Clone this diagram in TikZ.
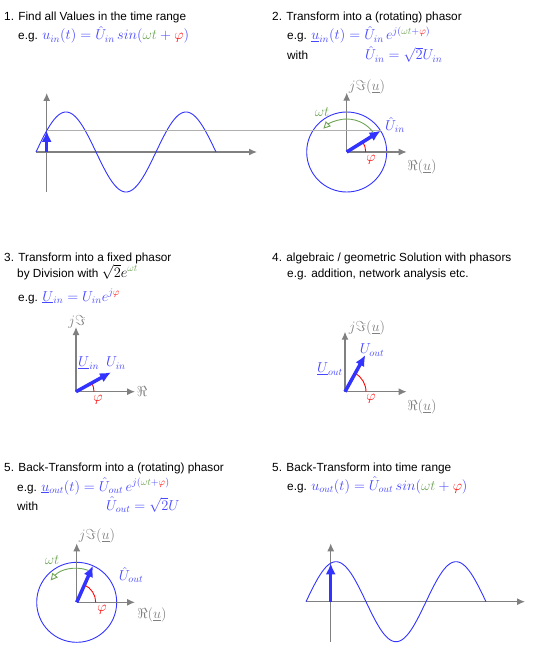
\documentclass[tikz,border=0pt]{standalone}
\usepackage{fontspec}
\setmainfont{Liberation Sans}
\usetikzlibrary{arrows.meta,calc,positioning}
\definecolor{phblue}{RGB}{51,51,255}
\definecolor{mathblue}{RGB}{70,70,255}
\definecolor{omgreen}{RGB}{110,165,85}
\definecolor{axgray}{RGB}{128,128,128}
\definecolor{guidegray}{RGB}{175,175,175}
\newcommand\mfs{\fontsize{14.5}{16}\selectfont}

\begin{document}
\begin{tikzpicture}[x=1pt, y=1pt, font=\fontsize{11.8}{14}\selectfont] % Styles
\tikzstyle{txt}=[anchor=base west, inner sep=0pt]
\tikzstyle{lbl}=[inner sep=0pt, font=\mfs]
\tikzstyle{axis}=[draw=axgray, line width=1.2pt, -{Latex[length=8pt,width=7pt]}]
\tikzstyle{wave}=[draw=phblue, line width=0.9pt]
\tikzstyle{circ}=[draw=phblue, line width=0.9pt]
\tikzstyle{guide}=[draw=guidegray, line width=0.9pt]
\tikzstyle{phasor}=[draw=phblue, line width=3.5pt, -{Latex[length=11pt,width=10pt]}]
\tikzstyle{phi}=[draw=red, line width=0.9pt]
\tikzstyle{rot}=[draw=omgreen, line width=0.9pt, -{Triangle[open,length=7pt,width=7pt]}]
\useasboundingbox (0,0) rectangle (551,-652);
% Texts
\node[txt] (h1) at (4,-21) {1. Find all Values in the time range};
\node[txt] (eg1) at (18,-40) {e.g. {\mfs\textcolor{mathblue}{$u_{in}(t)=\hat{U}_{in}\,sin(\textcolor{omgreen}{\omega t}+\textcolor{red}{\varphi})$}}};
\node[txt] (h2) at (272,-21) {2. Transform into a (rotating) phasor};
\node[txt] (eg2) at (287,-40) {e.g. {\mfs\textcolor{mathblue}{$\underline{u}_{in}(t)=\hat{U}_{in}\,e^{j(\textcolor{omgreen}{\omega t}+\textcolor{red}{\varphi})}$}}};
\node[txt] (w2) at (287,-60) {with};
\node[txt] (f2) at (365,-60) {\mfs\textcolor{mathblue}{$\hat{U}_{in}=\sqrt{2}U_{in}$}};
\node[txt] (h3) at (4,-261) {3. Transform into a fixed phasor};
\node[txt] (d3) at (17,-277) {by Division with {\mfs$\sqrt{2}e^{\textcolor{omgreen}{\omega t}}$}};
\node[txt] (eg3) at (18,-301) {e.g. {\mfs\textcolor{mathblue}{$\underline{U}_{in}=U_{in}e^{j\textcolor{red}{\varphi}}$}}};
\node[txt] (h4) at (272,-261) {4. algebraic / geometric Solution with phasors};
\node[txt] (eg4) at (287,-277) {e.g. addition, network analysis etc.};
\node[txt] (h5) at (4,-471) {5. Back-Transform into a (rotating) phasor};
\node[txt] (eg5) at (17,-491) {e.g. {\mfs\textcolor{mathblue}{$\underline{u}_{out}(t)=\hat{U}_{out}\,e^{j(\textcolor{omgreen}{\omega t}+\textcolor{red}{\varphi})}$}}};
\node[txt] (w5) at (17,-510) {with};
\node[txt] (f5) at (106,-510) {\mfs\textcolor{mathblue}{$\hat{U}_{out}=\sqrt{2}U$}};
\node[txt] (h6) at (272,-471) {5. Back-Transform into time range};
\node[txt] (eg6) at (287,-490) {e.g. {\mfs\textcolor{mathblue}{$u_{out}(t)=\hat{U}_{out}\,sin(\textcolor{omgreen}{\omega t}+\textcolor{red}{\varphi})$}}};
% Graph 1: time range
\coordinate (o1) at (46.7,-152);
\coordinate (x1a) at (36,-152);
\coordinate (x1b) at (257,-152);
\coordinate (y1a) at (46.7,-192);
\coordinate (y1b) at (46.7,-93);
\coordinate (t1) at ($(o1)+(0,{40*sin(32)})$);
\draw[axis] (x1a) -- (x1b);
\draw[axis] (y1a) -- (y1b);
\draw[wave] plot[domain=36:216, samples=150] (\x,{-152+40*sin(3*(\x-36))});
\draw[phasor] (o1) -- (t1);
% Graph 2: rotating phasor
\coordinate (c2) at (346.7,-152);
\coordinate (t2) at ($(c2)+(32:40)$);
\draw[circ] (c2) circle[radius=40];
\draw[axis] (c2) -- ($(c2)+(60,0)$);
\draw[axis] (c2) -- ($(c2)+(0,59.3)$);
\draw[guide] (t1) -- (t2);
\draw[phi] ($(c2)+(19,0)$) arc[start angle=0, end angle=32, radius=19];
\draw[rot] ($(c2)+(37:33)$) arc[start angle=37, end angle=135, radius=33];
\draw[phasor] (c2) -- (t2);
\node[lbl, text=axgray] (im2) at (367,-87) {$j\Im(\underline{u})$};
\node[lbl, text=axgray] (re2) at (422,-167) {$\Re(\underline{u})$};
\node[lbl, text=red] (phi2) at (371,-160) {$\varphi$};
\node[lbl, text=omgreen] (om2) at (322,-112) {$\omega t$};
\node[lbl, text=mathblue] (u2) at (395,-125) {$\hat{U}_{in}$};
% Graph 3: fixed phasor
\coordinate (o3) at (76,-391.7);
\coordinate (t3) at ($(o3)+(29:40)$);
\draw[axis] (o3) -- ($(o3)+(59,0)$);
\draw[axis] (o3) -- ($(o3)+(0,64.7)$);
\draw[phi] ($(o3)+(18,0)$) arc[start angle=0, end angle=29, radius=18];
\draw[phasor] (o3) -- (t3);
\node[lbl, text=axgray] (im3) at (77,-322) {$j\Im$};
\node[lbl, text=axgray] (re3) at (142,-391.5) {$\Re$};
\node[lbl, text=red] (phi3) at (98,-400) {$\varphi$};
\node[lbl, text=mathblue, anchor=west] (uu3) at (78,-363) {$\underline{U}_{in}$};
\node[lbl, text=mathblue, anchor=west] (u3) at (106,-363) {$U_{in}$};
% Graph 4: solution
\coordinate (o4) at (345,-391.7);
\coordinate (t4) at ($(o4)+(61:42)$);
\draw[axis] (o4) -- ($(o4)+(61.7,0)$);
\draw[axis] (o4) -- ($(o4)+(0,60)$);
\draw[phi] ($(o4)+(21,0)$) arc[start angle=0, end angle=61, radius=21];
\draw[phasor] (o4) -- (t4);
\node[lbl, text=axgray] (im4) at (367,-328) {$j\Im(\underline{u})$};
\node[lbl, text=axgray] (re4) at (422,-407) {$\Re(\underline{u})$};
\node[lbl, text=red] (phi4) at (371,-399) {$\varphi$};
\node[lbl, text=mathblue] (u4) at (372,-350) {$U_{out}$};
\node[lbl, text=mathblue, anchor=east] (uu4) at (343,-369) {$\underline{U}_{out}$};
% Graph 5: back to rotating phasor
\coordinate (c5) at (76.7,-602.3);
\coordinate (t5) at ($(c5)+(66:40)$);
\draw[circ] (c5) circle[radius=40];
\draw[axis] (c5) -- ($(c5)+(58.3,0)$);
\draw[axis] (c5) -- ($(c5)+(0,59)$);
\draw[phi] ($(c5)+(19,0)$) arc[start angle=0, end angle=66, radius=19];
\draw[rot] ($(c5)+(70:34)$) arc[start angle=70, end angle=140, radius=34];
\draw[phasor] (c5) -- (t5);
\node[lbl, text=axgray] (im5) at (97,-536) {$j\Im(\underline{u})$};
\node[lbl, text=axgray] (re5) at (152,-615) {$\Re(\underline{u})$};
\node[lbl, text=red] (phi5) at (102,-610) {$\varphi$};
\node[lbl, text=omgreen] (om5) at (52,-560) {$\omega t$};
\node[lbl, text=mathblue] (u5) at (131,-575) {$\hat{U}_{out}$};
% Graph 6: back to time range
\coordinate (o6) at (330.7,-601.7);
\coordinate (t6) at ($(o6)+(0,{40*sin(74)})$);
\draw[axis] (306,-601.7) coordinate (x6a) -- (525,-601.7) coordinate (x6b);
\draw[axis] (330.7,-641.7) coordinate (y6a) -- (330.7,-543.3) coordinate (y6b);
\draw[wave] plot[domain=306:486, samples=150] (\x,{-601.7+40*sin(3*(\x-306))});
\draw[phasor] (o6) -- (t6);
\end{tikzpicture}
\end{document}
